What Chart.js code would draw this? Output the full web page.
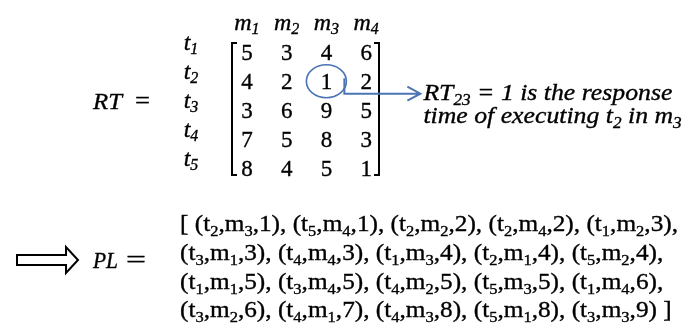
<!DOCTYPE html>
<html>
<head>
<meta charset="utf-8">
<script src="https://cdn.jsdelivr.net/npm/chart.js@4/dist/chart.umd.min.js"></script>
<style>
	html, body { margin: 0; padding: 0; background: #fff; }
	#wrap { width: 685px; height: 329px; }
</style>
</head>
<body>
<div id="wrap"><canvas id="rtChart"></canvas></div>
<script>
// Machines (columns) and tasks (rows) of the RT matrix
var machines = ['m1', 'm2', 'm3', 'm4'];
var tasks = ['t1', 't2', 't3', 't4', 't5'];

// Response time of each task on each machine
var m1Times = [5, 4, 3, 7, 8];
var m2Times = [3, 2, 6, 5, 4];
var m3Times = [4, 1, 9, 8, 5];
var m4Times = [6, 2, 5, 3, 1];

// Cell picked out by the annotation
var highlightTask = 't2';
var highlightMachine = 'm3';

var BLUE = '#4a74b4';
var SERIF = '"Liberation Serif", "Times New Roman", serif';

// Build the cells row by row (t1 m1, t1 m2, ...)
var columns = [m1Times, m2Times, m3Times, m4Times];
var cells = [];
tasks.forEach(function(task, i) {
	machines.forEach(function(machine, j) {
		cells.push({ x: machine, y: task, v: columns[j][i] });
	});
});

// PL = the cells sorted by response time (stable, so ties keep row order)
var plList = cells.slice().sort(function(a, b) { return a.v - b.v; });

function setFont(ctx, size, italic, bold) {
	ctx.font = (italic ? 'italic ' : '') + (bold ? 'bold ' : '') + size + 'px ' + SERIF;
}

// runs are [text, isSubscript]
function runsWidth(ctx, runs, opt) {
	var w = 0;
	runs.forEach(function(r) {
		setFont(ctx, r[1] ? opt.subSize : opt.size, opt.italic, opt.bold);
		w += ctx.measureText(r[0]).width;
	});
	return w;
}

function drawRuns(ctx, runs, x, y, opt) {
	var natural = runsWidth(ctx, runs, opt);
	var sx = opt.sx || (opt.width ? opt.width / natural : 1);
	var startX = opt.align === 'center' ? x - natural * sx / 2 : x;
	ctx.save();
	ctx.translate(startX, y);
	ctx.scale(sx, 1);
	ctx.fillStyle = opt.color || '#000';
	ctx.strokeStyle = opt.color || '#000';
	ctx.lineWidth = 0.35;
	ctx.textAlign = 'left';
	ctx.textBaseline = 'alphabetic';
	var cx = 0;
	runs.forEach(function(r) {
		setFont(ctx, r[1] ? opt.subSize : opt.size, opt.italic, opt.bold);
		ctx.fillText(r[0], cx, r[1] ? opt.subDrop : 0);
		ctx.strokeText(r[0], cx, r[1] ? opt.subDrop : 0);
		cx += ctx.measureText(r[0]).width;
	});
	ctx.restore();
	return sx;
}

function nameRuns(name) {
	return [[name.charAt(0), false], [name.slice(1), true]];
}

function tupleRuns(cell) {
	return [['(t', false], [cell.y.slice(1), true], [',m', false], [cell.x.slice(1), true], [',' + cell.v + ')', false]];
}

// Everything that is not a matrix cell is drawn here, off the scales
var matrixPlugin = {
	id: 'matrixPlugin',
	afterDatasetsDraw: function(chart) {
		var ctx = chart.ctx;
		var area = chart.chartArea;
		var xScale = chart.scales.x;
		var yScale = chart.scales.y;

		// matrix values
		var meta = chart.getDatasetMeta(0);
		ctx.save();
		ctx.fillStyle = '#000';
		ctx.strokeStyle = '#000';
		ctx.lineWidth = 0.35;
		ctx.textAlign = 'center';
		ctx.textBaseline = 'alphabetic';
		setFont(ctx, 23, false, false);
		meta.data.forEach(function(el, i) {
			var cell = chart.data.datasets[0].data[i];
			ctx.fillText(String(cell.v), el.x, el.y + 8);
			ctx.strokeText(String(cell.v), el.x, el.y + 8);
		});
		ctx.restore();

		// column and row labels
		var labelOpt = { size: 24, subSize: 16, subDrop: 4, italic: true, align: 'center' };
		machines.forEach(function(m, j) {
			drawRuns(ctx, nameRuns(m), xScale.getPixelForTick(j), 30, labelOpt);
		});
		tasks.forEach(function(t, i) {
			drawRuns(ctx, nameRuns(t), 191, yScale.getPixelForTick(i) - 2, labelOpt);
		});

		// brackets
		var bl = area.left + 5, br = area.right - 7;
		var bt = area.top + 5, bb = area.bottom - 7;
		ctx.save();
		ctx.strokeStyle = '#000';
		ctx.lineWidth = 2;
		ctx.beginPath();
		ctx.moveTo(bl + 5, bt); ctx.lineTo(bl, bt); ctx.lineTo(bl, bb); ctx.lineTo(bl + 5, bb);
		ctx.moveTo(br - 5, bt); ctx.lineTo(br, bt); ctx.lineTo(br, bb); ctx.lineTo(br - 5, bb);
		ctx.stroke();
		ctx.restore();

		// RT =
		drawRuns(ctx, [['RT', false]], 93, 109, { size: 24, italic: true, width: 29 });
		drawRuns(ctx, [['=', false]], 135, 108, { size: 24, width: 15 });

		// highlight circle and arrow
		var hx = xScale.getPixelForValue(machines.indexOf(highlightMachine));
		var hy = yScale.getPixelForValue(tasks.indexOf(highlightTask));
		ctx.save();
		ctx.strokeStyle = BLUE;
		ctx.lineWidth = 1.6;
		ctx.beginPath();
		ctx.ellipse(hx, hy, 20, 16.5, 0, 0, Math.PI * 2);
		ctx.stroke();
		ctx.lineWidth = 2;
		ctx.beginPath();
		ctx.moveTo(hx + 18, hy - 3);
		ctx.lineTo(hx + 18, hy + 12.5);
		ctx.lineTo(hx + 94, hy + 12.5);
		ctx.moveTo(hx + 81, hy + 5.5);
		ctx.lineTo(hx + 94, hy + 12.5);
		ctx.lineTo(hx + 81, hy + 19.5);
		ctx.stroke();
		ctx.restore();

		// annotation text
		var line1 = [['RT', false], ['23', true], [' = 1 is the response', false]];
		var line2 = [['time of executing t', false], [highlightTask.slice(1), true], [' in m', false], [highlightMachine.slice(1), true]];
		var noteSx = drawRuns(ctx, line1, hx + 97, hy + 19, { size: 24, subSize: 16, subDrop: 5, italic: true, width: 249 });
		drawRuns(ctx, line2, hx + 97, hy + 42, { size: 24, subSize: 16, subDrop: 5, italic: true, sx: noteSx });

		// hollow block arrow
		ctx.save();
		ctx.strokeStyle = '#000';
		ctx.fillStyle = '#fff';
		ctx.lineWidth = 2;
		ctx.beginPath();
		ctx.moveTo(17, 255); ctx.lineTo(66, 255); ctx.lineTo(66, 247); ctx.lineTo(78, 260);
		ctx.lineTo(66, 273); ctx.lineTo(66, 265); ctx.lineTo(17, 265);
		ctx.closePath();
		ctx.fill();
		ctx.stroke();
		ctx.restore();

		// PL =
		drawRuns(ctx, [['PL', false]], 93, 268, { size: 23, italic: true, width: 25 });
		drawRuns(ctx, [['=', false]], 126, 267, { size: 23, width: 20 });

		// PL list, five tuples per line
		var lines = [];
		for (var k = 0; k < plList.length; k += 5) {
			var runs = [];
			if (k === 0) runs.push(['[ ', false]);
			plList.slice(k, k + 5).forEach(function(cell, n, arr) {
				runs = runs.concat(tupleRuns(cell));
				var last = k + n === plList.length - 1;
				if (!last) runs.push([n === arr.length - 1 ? ',' : ', ', false]);
			});
			if (k + 5 >= plList.length) runs.push([' ]', false]);
			lines.push(runs);
		}
		var listOpt = { size: 23, subSize: 15, subDrop: 5 };
		var listSx = 498 / runsWidth(ctx, lines[0], listOpt);
		var baselines = [231, 260, 289, 317];
		lines.forEach(function(runs, i) {
			drawRuns(ctx, runs, 180, baselines[i], { size: 23, subSize: 15, subDrop: 5, sx: listSx });
		});
	}
};

var ctxRT = document.getElementById('rtChart');
var rtChart = new Chart(ctxRT, {
	type: 'scatter',
	data: {
		datasets: [{
			label: 'RT',
			data: cells,
			pointRadius: 0,
			pointHoverRadius: 0,
			showLine: false
		}]
	},
	options: {
		responsive: true,
		maintainAspectRatio: false,
		animation: false,
		events: [],
		layout: { padding: { left: 227, right: 299, top: 38, bottom: 147 } },
		plugins: { legend: { display: false }, tooltip: { enabled: false } },
		scales: {
			x: { type: 'category', labels: machines, offset: true, display: false },
			y: { type: 'category', labels: tasks, offset: true, display: false }
		}
	},
	plugins: [matrixPlugin]
});
</script>
</body>
</html>
